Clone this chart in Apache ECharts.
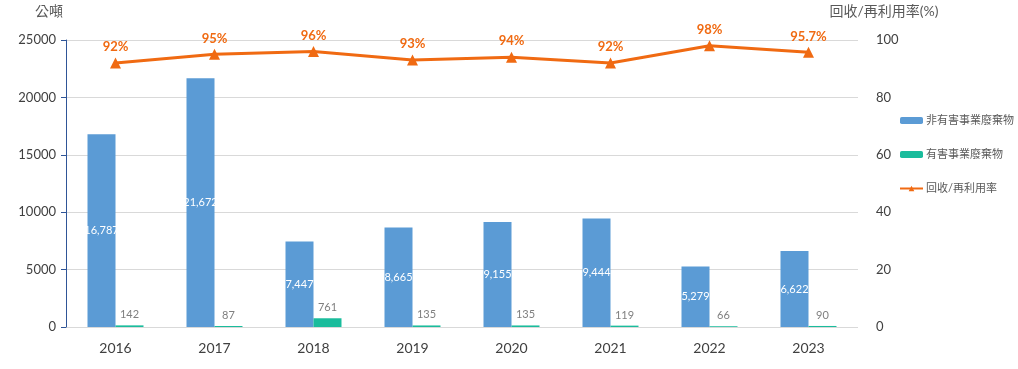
<!DOCTYPE html>
<html><head><meta charset="utf-8">
<script src="https://cdn.jsdelivr.net/npm/echarts@6/dist/echarts.min.js"></script>
<style>html,body{margin:0;padding:0;background:#fff}#c{width:1018px;height:369px}</style>
</head><body><div id="c"></div>
<script>
const years = ['2016','2017','2018','2019','2020','2021','2022','2023'];
const nonHazardous = [16787, 21672, 7447, 8665, 9155, 9444, 5279, 6622];
const hazardous = [142, 87, 761, 135, 135, 119, 66, 90];
const recycleRate = [92, 95, 96, 93, 94, 92, 98, 95.7];
const rateLabels = ['92%','95%','96%','93%','94%','92%','98%','95.7%'];
const seriesNames = ['非有害事業廢棄物','有害事業廢棄物','回收/再利用率'];

const font = '"Lato","Noto Sans CJK TC",sans-serif';
const chart = echarts.init(document.getElementById('c'));
chart.setOption({
  animation: false,
  textStyle: {fontFamily: font},
  grid: {left: 66, right: 160, top: 40, bottom: 42},
  legend: {
    orient: 'vertical', left: 894, top: 110,
    itemWidth: 23, itemHeight: 7, itemGap: 23,
    textStyle: {fontSize: 11, color: '#595959', fontFamily: font, padding: [0, 0, 0, -2]},
    data: seriesNames
  },
  xAxis: {
    type: 'category', data: years,
    axisLine: {show: false}, axisTick: {show: false},
    axisLabel: {fontSize: 14, color: '#404040', margin: 14, fontFamily: font}
  },
  yAxis: [{
    type: 'value', min: 0, max: 25000, interval: 5000,
    name: '公噸', nameLocation: 'end', nameGap: 22,
    nameTextStyle: {fontSize: 14, color: '#595959', align: 'right', padding: [0, 3, 0, 0]},
    axisLine: {show: true, lineStyle: {color: '#2F5597', width: 1}},
    axisTick: {show: true, length: 5, lineStyle: {color: '#2F5597'}},
    axisLabel: {fontSize: 13, color: '#404040', margin: 10, formatter: v => String(v)},
    splitLine: {lineStyle: {color: '#D9D9D9'}}
  }, {
    type: 'value', min: 0, max: 100, interval: 20,
    name: '回收/再利用率(%)', nameLocation: 'end', nameGap: 22,
    nameTextStyle: {fontSize: 14, color: '#595959', align: 'center', padding: [0, 0, 0, 52]},
    axisLine: {show: false}, axisTick: {show: false},
    axisLabel: {fontSize: 13, color: '#404040', margin: 18},
    splitLine: {show: false}
  }],
  series: [{
    name: seriesNames[0], type: 'bar', data: nonHazardous,
    barWidth: 28, barGap: '0%',
    itemStyle: {color: '#5B9BD5'},
    label: {show: true, position: 'inside', color: '#fff', fontSize: 11,
      formatter: p => p.value.toLocaleString('en-US')}
  }, {
    name: seriesNames[1], type: 'bar', data: hazardous,
    barWidth: 28,
    itemStyle: {color: '#1ABC9C'},
    label: {show: true, position: 'top', color: '#7F7F7F', fontSize: 11, distance: 5,
      formatter: p => p.value.toLocaleString('en-US')}
  }, {
    name: seriesNames[2], type: 'line', yAxisIndex: 1, data: recycleRate,
    symbol: 'triangle', symbolSize: 11,
    lineStyle: {color: '#F06A12', width: 3},
    itemStyle: {color: '#F06A12'},
    label: {show: true, position: 'top', color: '#F06A12', fontSize: 13, fontWeight: 'bold', distance: 4,
      formatter: p => rateLabels[p.dataIndex]}
  }]
});
</script></body></html>
